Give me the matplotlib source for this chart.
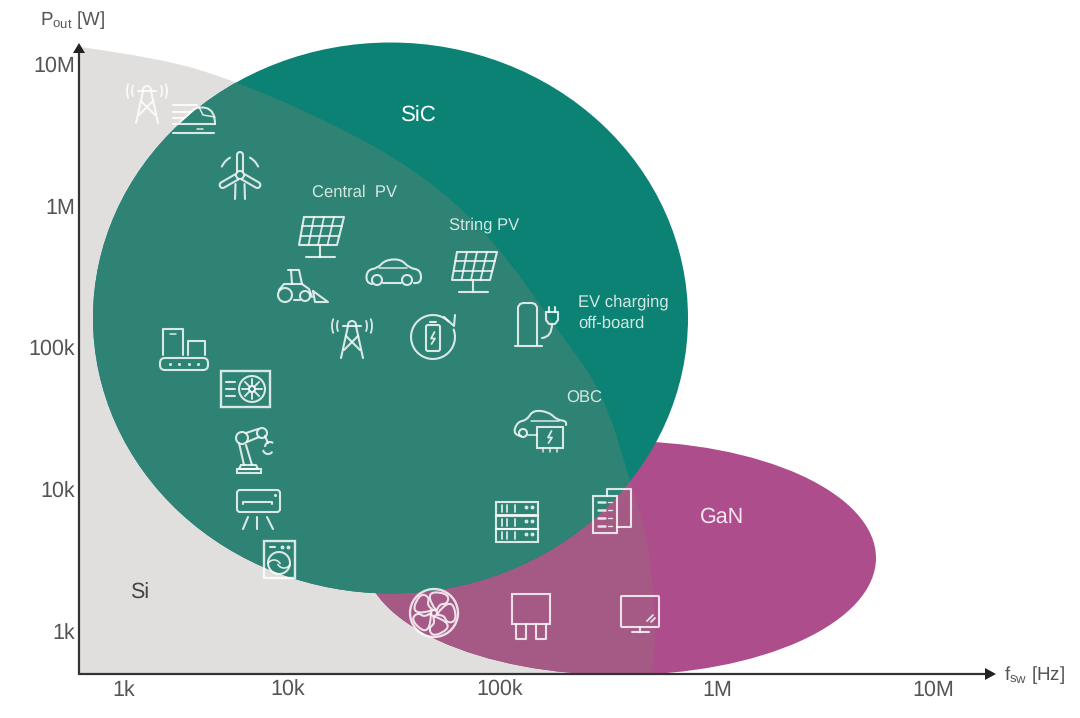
#!/usr/bin/python3

import numpy as np

import matplotlib.pyplot as plt
from matplotlib.patches import Ellipse, PathPatch, Polygon, Rectangle, FancyBboxPatch
from matplotlib.path import Path

plt.rcParams['font.family'] = ['Liberation Sans', 'DejaVu Sans']
plt.rcParams['mathtext.fontset'] = 'custom'
plt.rcParams['mathtext.rm'] = 'Liberation Sans'
plt.rcParams['text.hinting'] = 'no_hinting'

# tick labels
xTickLabels = ['1k', '10k', '100k', '1M', '10M']
yTickLabels = ['10M', '1M', '100k', '10k', '1k']
xTickPos = [124, 288, 500, 717, 933]
yTickPos = [66, 208, 350, 492, 633]

# technology regions
siName = 'Si'
sicName = 'SiC'
ganName = 'GaN'

# outline of the Si area (pixels)
siBoundX = [80, 160, 233, 330, 420, 493, 560, 603, 630, 650, 656, 652]
siBoundY = [47, 58, 80, 122, 172, 238, 333, 392, 480, 547, 630, 674]

# application labels
appLabels = ['Central  PV', 'String PV', 'EV charging\noff-board', 'OBC']

# colours
greySi = '#e0dfde'
tealSic = '#0b8274'
tealOver = '#2f8375'
pinkGan = '#ae4d8b'
pinkOver = '#a55a86'
axisCol = '#333333'
textCol = '#555555'
appCol = '#d3e7e2'
iconCol = (1, 1, 1, 0.82)
iconLw = 1.5

fig = plt.figure(figsize=(10.8, 7.18), dpi=100)
ax = fig.add_axes([0, 0, 1, 1])
ax.set_xlim(0, 1080)
ax.set_ylim(718, 0)
ax.axis('off')


def smoothPath(xs, ys):
    # quadratic pieces through the midpoints, then closed along the axes
    verts = [(78, 674), (78, ys[0]), (xs[0], ys[0])]
    codes = [Path.MOVETO, Path.LINETO, Path.LINETO]
    for i in range(1, len(xs) - 1):
        verts.append((xs[i], ys[i]))
        codes.append(Path.CURVE3)
        verts.append(((xs[i] + xs[i + 1]) / 2, (ys[i] + ys[i + 1]) / 2))
        codes.append(Path.CURVE3)
    verts.append((xs[-1], ys[-1]))
    codes.append(Path.LINETO)
    verts.append((78, 674))
    codes.append(Path.CLOSEPOLY)
    return Path(verts, codes)


siPath = smoothPath(siBoundX, siBoundY)
ax.add_patch(PathPatch(siPath, fc=greySi, ec='none', zorder=1))

ganShape = Ellipse((620, 558), 512, 234, fc=pinkGan, ec='none', zorder=2)
ax.add_patch(ganShape)
ganOver = PathPatch(siPath, fc=pinkOver, ec='none', zorder=3)
ax.add_patch(ganOver)
ganOver.set_clip_path(ganShape)

sicShape = Ellipse((390.5, 318), 595, 551, fc=tealSic, ec='none', zorder=4)
ax.add_patch(sicShape)
sicOver = PathPatch(siPath, fc=tealOver, ec='none', zorder=5)
ax.add_patch(sicOver)
sicOver.set_clip_path(sicShape)

# axes
ax.plot([78.5, 78.5], [675, 52], color=axisCol, lw=1.6, zorder=6, solid_capstyle='butt')
ax.plot([78, 985], [674, 674], color=axisCol, lw=1.6, zorder=6, solid_capstyle='butt')
ax.add_patch(Polygon([(79, 43), (73, 53), (85, 53)], fc='#222222', ec='none', zorder=7))
ax.add_patch(Polygon([(996, 674), (985, 668), (985, 680)], fc='#222222', ec='none', zorder=7))

for lab, px in zip(xTickLabels, xTickPos):
    ax.text(px, 690, lab, ha='center', va='center', fontsize=15.5, color=textCol)
for lab, py in zip(yTickLabels, yTickPos):
    ax.text(75, py, lab, ha='right', va='center', fontsize=15.5, color=textCol)

ax.text(40, 20, r'P$_{\mathrm{out}}$ [W]', ha='left', va='center', fontsize=13.5, color=textCol)
ax.text(1004, 675, r'f$_{\mathrm{sw}}$ [Hz]', ha='left', va='center', fontsize=13.5, color=textCol)

ax.text(140, 593, siName, ha='center', va='center', fontsize=15.5, color='#444444', zorder=8)
ax.text(419, 116, sicName, ha='center', va='center', fontsize=16, color='white', zorder=8)
ax.text(722, 517, ganName, ha='center', va='center', fontsize=15.5, color='#f5e6f0', zorder=8)

ax.text(355, 192, appLabels[0], ha='center', va='center', fontsize=12, color=appCol, zorder=8)
ax.text(484, 225, appLabels[1], ha='center', va='center', fontsize=12, color=appCol, zorder=8)
ax.text(578, 313, appLabels[2], ha='left', va='center', fontsize=12, color=appCol, zorder=8,
        linespacing=1.45)
ax.text(584, 398, appLabels[3], ha='center', va='center', fontsize=12, color=appCol, zorder=8)


# small drawing helpers for the line icons, all relative to an icon centre
def line(cx, cy, pts, lw=iconLw, closed=False):
    xs = [cx + p[0] for p in pts]
    ys = [cy + p[1] for p in pts]
    if closed:
        xs.append(xs[0])
        ys.append(ys[0])
    ax.plot(xs, ys, color=iconCol, lw=lw, zorder=9, solid_capstyle='round',
            solid_joinstyle='round')


def curve(cx, cy, pts, lw=iconLw):
    # open smooth stroke, the points act as quadratic control points
    verts = [(cx + pts[0][0], cy + pts[0][1])]
    codes = [Path.MOVETO]
    for i in range(1, len(pts) - 1):
        verts.append((cx + pts[i][0], cy + pts[i][1]))
        codes.append(Path.CURVE3)
        if i < len(pts) - 2:
            endX = (pts[i][0] + pts[i + 1][0]) / 2
            endY = (pts[i][1] + pts[i + 1][1]) / 2
        else:
            endX, endY = pts[-1]
        verts.append((cx + endX, cy + endY))
        codes.append(Path.CURVE3)
    ax.add_patch(PathPatch(Path(verts, codes), fc='none', ec=iconCol, lw=lw, zorder=9,
                           capstyle='round'))


def arc(cx, cy, r, a0, a1, lw=iconLw):
    t = np.radians(np.linspace(a0, a1, 40))
    ax.plot(cx + r * np.cos(t), cy - r * np.sin(t), color=iconCol, lw=lw, zorder=9,
            solid_capstyle='round')


def circle(cx, cy, r, lw=iconLw):
    arc(cx, cy, r, 0, 360, lw)


def box(x0, y0, x1, y1, lw=iconLw):
    ax.add_patch(Rectangle((x0, y0), x1 - x0, y1 - y0, fc='none', ec=iconCol, lw=lw, zorder=9))


def roundBox(x0, y0, x1, y1, pad=3, lw=iconLw):
    ax.add_patch(FancyBboxPatch((x0 + pad, y0 + pad), x1 - x0 - 2 * pad, y1 - y0 - 2 * pad,
                                boxstyle='round,pad=%d' % pad, fc='none', ec=iconCol, lw=lw,
                                zorder=9))


def bolt(cx, cy, s=1.0):
    line(cx, cy, [(1.5 * s, -6 * s), (-2 * s, 0.5 * s), (2 * s, 0.5 * s), (-1.5 * s, 6 * s)], lw=1.3)


def tower(cx, cy):
    line(cx, cy, [(-4, -12), (-11, 20)])
    line(cx, cy, [(4, -12), (11, 20)])
    line(cx, cy, [(-6, -2), (8, 12)])
    line(cx, cy, [(6, -2), (-8, 12)])
    line(cx, cy, [(-9, -12), (9, -12)])
    arc(cx, cy - 13, 4, 0, 180)
    for r in (15, 20):
        arc(cx, cy - 12, r, -20, 20, 1.3)
        arc(cx, cy - 12, r, 160, 200, 1.3)


def train(cx, cy):
    curve(cx, cy, [(-14, 4), (-6, -3), (3, -12), (21, -8), (21, 6)])
    line(cx, cy, [(-21, 6), (21, 6)])
    line(cx, cy, [(-21, -13), (3, -13)])
    line(cx, cy, [(-21, -6), (-3, -6)])
    line(cx, cy, [(-21, 0), (-10, 0)])
    line(cx, cy, [(-21, 15), (20, 15)])
    line(cx, cy, [(3, 10.5), (9, 10.5)], 1.1)
    line(cx, cy, [(5, -11), (9, -3), (21, -1)], 1.1)


def blade(cx, cy, ang):
    # one long narrow blade pointing at ang degrees from the hub
    t = np.radians(ang)
    ux, uy = np.cos(t), -np.sin(t)
    nx, ny = -uy, ux
    pts = [(ux * 4 + nx * 3, uy * 4 + ny * 3), (ux * 20 + nx * 3, uy * 20 + ny * 3)]
    for a in np.radians(np.linspace(0, 180, 10)):
        pts.append((ux * 20 + ux * 3 * np.sin(a) + nx * 3 * np.cos(a),
                    uy * 20 + uy * 3 * np.sin(a) + ny * 3 * np.cos(a)))
    pts.append((ux * 4 - nx * 3, uy * 4 - ny * 3))
    line(cx, cy, pts)


def turbine(cx, cy):
    circle(cx, cy, 4)
    for ang in (90, 210, 330):
        blade(cx, cy, ang)
    line(cx, cy, [(-4.5, 9), (-5, 24)])
    line(cx, cy, [(4.5, 9), (5, 24)])
    arc(cx, cy, 20, 25, 60)
    arc(cx, cy, 20, 120, 155)


def solar(cx, cy):
    tl, tr, br, bl = (-17, -20), (23, -20), (16, 8), (-22, 8)
    line(cx, cy, [tl, tr, br, bl], closed=True)
    for f in (0.25, 0.5, 0.75):
        line(cx, cy, [(tl[0] + f * (tr[0] - tl[0]), -20), (bl[0] + f * (br[0] - bl[0]), 8)], 1.3)
    for f in (1 / 3, 2 / 3):
        line(cx, cy, [(tl[0] + f * (bl[0] - tl[0]), -20 + f * 28),
                      (tr[0] + f * (br[0] - tr[0]), -20 + f * 28)], 1.3)
    line(cx, cy, [(-1, 8), (-1, 20)])
    line(cx, cy, [(-15, 20), (14, 20)])


def tractor(cx, cy):
    circle(cx - 18, cy + 8, 7)
    circle(cx + 2, cy + 9, 5)
    line(cx, cy, [(-15, -17), (-4, -17), (-1, -3), (6, 2), (9, 10)])
    line(cx, cy, [(-12, -17), (-11, -3), (-19, -3), (-24, 3)])
    line(cx, cy, [(-1, -3), (-11, -3)])
    line(cx, cy, [(-9, 13), (-3, 13)])
    line(cx, cy, [(10, 4), (25, 15), (12, 15)], closed=True)


def car(cx, cy):
    curve(cx, cy, [(-21, 11), (-27, 10), (-26, -3), (-15, -5), (-8, -13), (8, -14), (16, -5),
                   (28, -3), (28, 11), (21, 10)])
    line(cx, cy, [(-10, 10), (8, 10)])
    line(cx, cy, [(-14, -5), (14, -5)], 1.1)
    circle(cx - 16, cy + 7, 5)
    circle(cx + 14, cy + 7, 5)


def batteryCycle(cx, cy):
    arc(cx, cy, 22, -315, 20)
    line(cx, cy, [(11, -20), (21, -11), (22, -22)])
    roundBox(cx - 7, cy - 12, cx + 7, cy + 14, 2)
    line(cx, cy, [(-3, -15), (3, -15)])
    bolt(cx, cy + 1)


def charger(cx, cy):
    line(cx, cy, [(-17, 20), (-17, -18), (-15, -21), (-12, -22), (-3, -22), (0, -21), (2, -18),
                  (2, 20)])
    line(cx, cy, [(-20, 21), (7, 21)])
    line(cx, cy, [(11, -13), (11, -5), (14, -1), (20, -1), (23, -5), (23, -13)], closed=True)
    line(cx, cy, [(14, -13), (14, -18)])
    line(cx, cy, [(20, -13), (20, -18)])
    curve(cx, cy, [(17, -1), (17, 12), (7, 13)])


def obc(cx, cy):
    curve(cx, cy, [(-16, 6), (-24, 5), (-20, -8), (-10, -10), (-4, -20), (12, -18), (20, -10),
                   (30, -9), (29, -5)])
    line(cx, cy, [(-9, 5), (0, 5)], 1.2)
    line(cx, cy, [(-6, -9), (22, -9)], 1.1)
    circle(cx - 14, cy + 3, 4)
    box(cx, cy - 3, cx + 26, cy + 18)
    bolt(cx + 13, cy + 7)
    for dx in (6, 13, 20):
        line(cx, cy, [(dx, 18), (dx, 22)], 1.1)


def conveyor(cx, cy):
    line(cx, cy, [(-21, 5), (-21, -21), (-1, -21), (-1, 5)])
    line(cx, cy, [(4, 5), (4, -9), (21, -9), (21, 5)])
    line(cx, cy, [(-14, -16), (-8, -16)], 1.1)
    roundBox(cx - 24, cy + 8, cx + 24, cy + 20, 5)
    for dx in (-14, -5, 5, 14):
        ax.plot(cx + dx, cy + 14, 'o', ms=2.2, mfc=iconCol, mec='none', zorder=9)


def heatPump(cx, cy):
    box(cx - 24, cy - 17, cx + 25, cy + 19, 1.7)
    circle(cx + 7, cy + 1, 13)
    circle(cx + 7, cy + 1, 3)
    for a in np.radians(np.arange(0, 360, 45)):
        line(cx + 7, cy + 1, [(3 * np.cos(a), 3 * np.sin(a)), (10 * np.cos(a), 10 * np.sin(a))], 1.4)
    for dy in (-6, 1, 8):
        line(cx, cy, [(-19, dy), (-10, dy)])


def robot(cx, cy):
    circle(cx - 8, cy - 27, 6)
    circle(cx + 12, cy - 32, 5)
    line(cx, cy, [(-4, -32), (8, -36)])
    line(cx, cy, [(-3, -23), (9, -28)])
    line(cx, cy, [(-11, -22), (-6, 0)])
    line(cx, cy, [(-4, -20), (2, 0)])
    line(cx, cy, [(-9, 0), (6, 0), (8, 4), (-11, 4), (-9, 0)])
    box(cx - 13, cy + 4, cx + 11, cy + 8)
    line(cx, cy, [(15, -29), (18, -22)])
    arc(cx + 20, cy - 18, 5, 60, 170)
    arc(cx + 18, cy - 16, 5, 200, 320)


def airCon(cx, cy):
    roundBox(cx - 21, cy - 18, cx + 22, cy + 4, 3)
    line(cx, cy, [(-15, -4), (-15, -6), (14, -6), (14, -4)])
    ax.plot(cx + 17, cy - 13, 'o', ms=2.2, mfc=iconCol, mec='none', zorder=9)
    line(cx, cy, [(-10, 9), (-15, 21)])
    line(cx, cy, [(-1, 9), (-1, 21)])
    line(cx, cy, [(9, 9), (15, 21)])


def washer(cx, cy):
    box(cx - 15, cy - 19, cx + 16, cy + 18, 1.7)
    circle(cx, cy + 3, 11)
    arc(cx - 5, cy + 7, 7, 30, 150, 1.2)
    arc(cx + 5, cy + 1, 7, 210, 330, 1.2)
    line(cx, cy, [(-9, -13), (-4, -13)])
    ax.plot([cx + 3, cx + 9], [cy - 13, cy - 13], 'o', ms=2.8, mfc=iconCol, mec='none', zorder=9)


def server(cx, cy):
    for top in (-20, -6, 7):
        box(cx - 21, cy + top, cx + 21, cy + top + 13)
        for dx in (-15, -10, -2):
            line(cx, cy, [(dx, top + 3), (dx, top + 10)], 1.3)
        ax.plot([cx + 9, cx + 15], [cy + top + 5, cy + top + 5], 'o', ms=2.8, mfc=iconCol,
                mec='none', zorder=9)


def docs(cx, cy):
    box(cx - 19, cy - 15, cx + 5, cy + 22)
    line(cx, cy, [(-5, -15), (-5, -22), (19, -22), (19, 16), (5, 16)])
    for dy in (-9, -1, 7, 15):
        line(cx, cy, [(-14, dy), (-7, dy)], 1.8)
        line(cx, cy, [(-4, dy), (0, dy)], 1.0)


def fan(cx, cy):
    circle(cx, cy, 24, 1.7)
    circle(cx, cy, 3)
    petal = [(2, -3), (-3, -9), (-5, -20), (6, -21), (15, -17), (13, -9), (5, -9), (3, -3)]
    for a in np.radians(np.arange(0, 360, 72)):
        ca, sa = np.cos(a), np.sin(a)
        curve(cx, cy, [(p[0] * ca - p[1] * sa, p[0] * sa + p[1] * ca) for p in petal])


def chip(cx, cy):
    box(cx - 18, cy - 23, cx + 20, cy + 7)
    for dx in (-14, 6):
        line(cx, cy, [(dx, 7), (dx, 22), (dx + 10, 22), (dx + 10, 7)])


def monitor(cx, cy):
    roundBox(cx - 19, cy - 17, cx + 19, cy + 14, 1)
    line(cx, cy, [(0, 14), (0, 19)])
    line(cx, cy, [(-8, 19), (9, 19)])
    line(cx, cy, [(7, 8), (13, 2)], 1.3)
    line(cx, cy, [(11, 9), (15, 5)], 1.3)


# icons
tower(147, 103)
train(194, 118)
turbine(240, 175)
solar(321, 237)
solar(474, 272)
tractor(303, 287)
car(393, 273)
tower(352, 338)
batteryCycle(433, 337)
charger(535, 325)
obc(537, 430)
conveyor(184, 350)
heatPump(245, 388)
robot(250, 465)
airCon(258, 508)
washer(279, 560)
server(517, 522)
docs(612, 511)
fan(434, 613)
chip(530, 617)
monitor(640, 613)

fig.savefig('out.png', dpi=100)
